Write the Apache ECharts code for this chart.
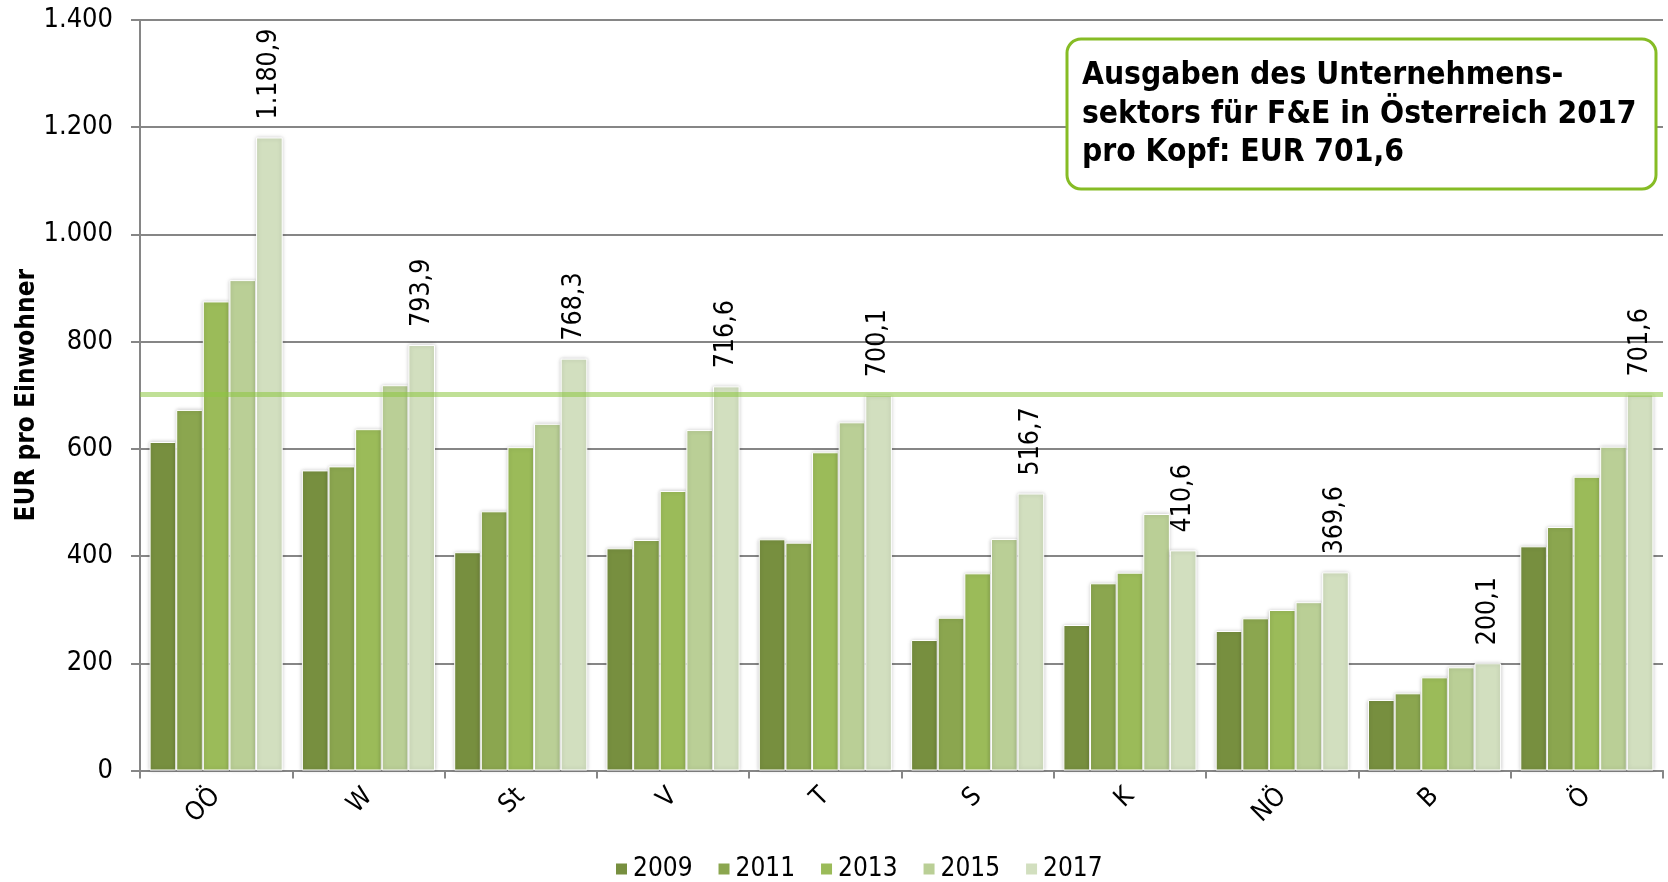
<!DOCTYPE html>
<html>
<head>
<meta charset="utf-8">
<script src="https://cdn.jsdelivr.net/npm/echarts@6/dist/echarts.min.js"></script>
<style>
  html, body { margin: 0; padding: 0; background: #fff; }
  #main { width: 1668px; height: 882px; }
</style>
</head>
<body>
<div id="main"></div>
<script>
// Bundesländer
var categories = ['OÖ', 'W', 'St', 'V', 'T', 'S', 'K', 'NÖ', 'B', 'Ö'];
var years = ['2009', '2011', '2013', '2015', '2017'];
// EUR pro Einwohner
var v2009 = [612.8, 559.8, 407.2, 414.5, 431.3, 243.4, 271.4, 260.2, 131.5, 418.2];
var v2011 = [672.6, 567.3, 483.5, 430.0, 425.0, 285.0, 349.2, 283.9, 144.0, 454.2];
var v2013 = [875.0, 636.7, 603.2, 521.4, 593.6, 367.8, 369.0, 299.4, 173.8, 548.0];
var v2015 = [914.8, 718.7, 646.7, 635.1, 649.5, 431.8, 478.5, 314.0, 192.5, 604.0];
var v2017 = [1180.9, 793.9, 768.3, 716.6, 700.1, 516.7, 410.6, 369.6, 200.1, 701.6];
var oesterreich2017 = 701.6;

var colors = ['#778f3f', '#8ba64f', '#9bbb59', '#bacf96', '#d2dfbf'];
var fontName = '"DejaVu Sans Condensed", "DejaVu Sans", sans-serif';

// 1234.5 -> "1.234,5"
function deNum(v, dec) {
  var s = v.toFixed(dec).split('.');
  var intPart = s[0].replace(/\B(?=(\d{3})+(?!\d))/g, '.');
  return s.length > 1 ? intPart + ',' + s[1] : intPart;
}

var chart = echarts.init(document.getElementById('main'));
var allData = [v2009, v2011, v2013, v2015, v2017];

var series = allData.map(function (d, i) {
  var s = {
    name: years[i],
    type: 'bar',
    data: d,
    barGap: '0%',
    barCategoryGap: '12.6%',
    itemStyle: {
      color: colors[i],
      borderColor: '#fff',
      borderWidth: 1,
      shadowColor: 'rgba(0,0,0,0.22)',
      shadowBlur: 4
    }
  };
  if (i === 4) {
    s.label = {
      show: true,
      position: 'top',
      rotate: 90,
      align: 'left',
      verticalAlign: 'middle',
      distance: 18,
      fontFamily: fontName,
      fontSize: 26.5,
      color: '#000',
      formatter: function (p) { return deNum(p.value, 1); }
    };
    s.markLine = {
      silent: true,
      symbol: 'none',
      label: { show: false },
      lineStyle: { color: 'rgba(140,198,63,0.55)', width: 5, type: 'solid' },
      data: [{ yAxis: oesterreich2017 }]
    };
  }
  return s;
});

var option = {
  animation: false,
  color: colors,
  textStyle: { fontFamily: fontName },
  grid: { left: 140, right: 5, top: 20, bottom: 111.5 },
  legend: {
    data: years,
    left: 609,
    top: 851,
    icon: 'rect',
    itemWidth: 13,
    itemHeight: 13,
    itemGap: 24,
    textStyle: { fontFamily: fontName, fontSize: 26, color: '#000' }
  },
  xAxis: {
    type: 'category',
    data: categories,
    axisLine: { lineStyle: { color: '#868686', width: 2 } },
    axisTick: { show: true, length: 8, lineStyle: { color: '#868686', width: 2 } },
    axisLabel: {
      rotate: 45,
      margin: 22,
      fontFamily: fontName,
      fontSize: 26,
      color: '#000'
    }
  },
  yAxis: {
    type: 'value',
    min: 0,
    max: 1400,
    interval: 200,
    name: 'EUR pro Einwohner',
    nameLocation: 'middle',
    nameGap: 100,
    nameMoveOverlap: false,
    nameTextStyle: { fontFamily: fontName, fontSize: 26, fontWeight: 'bold', color: '#000' },
    axisLine: { show: true, lineStyle: { color: '#868686', width: 2 } },
    axisTick: { show: true, length: 9, lineStyle: { color: '#868686', width: 2 } },
    splitLine: { lineStyle: { color: '#868686', width: 2 } },
    axisLabel: {
      margin: 27,
      fontFamily: fontName,
      fontSize: 27,
      color: '#000',
      formatter: function (v) { return deNum(v, 0); }
    }
  },
  graphic: [
    {
      type: 'rect',
      z: 100,
      shape: { x: 1067, y: 39, width: 589, height: 150, r: 14 },
      style: { fill: '#fff', stroke: '#86bc25', lineWidth: 3 }
    },
    {
      type: 'text',
      z: 101,
      left: 1082,
      top: 57,
      style: {
        text: 'Ausgaben des Unternehmens-\nsektors für F&E in Österreich 2017\npro Kopf: EUR 701,6',
        fontFamily: fontName,
        fontWeight: 'bold',
        fontSize: 31.5,
        lineHeight: 38.5,
        fill: '#000'
      }
    }
  ],
  series: series
};

chart.setOption(option);
</script>
</body>
</html>
